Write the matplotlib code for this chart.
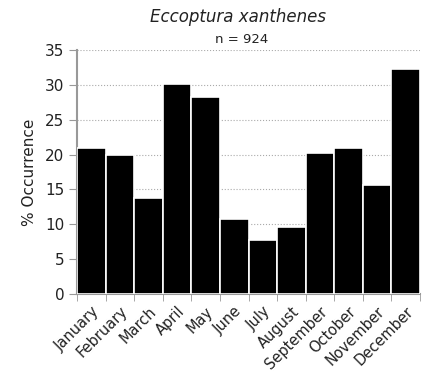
import matplotlib
matplotlib.use("Agg")
import matplotlib.pyplot as plt
import numpy as np

months = ["January", "February", "March", "April", "May", "June", "July",
          "August", "September", "October", "November", "December"]
occurrence = [20.9, 20.0, 13.8, 30.1, 28.2, 10.8, 7.7, 9.6, 20.2, 21.0, 15.7, 32.3]
y_ticks = [0, 5, 10, 15, 20, 25, 30, 35]

plt.rcParams["font.family"] = ["DejaVu Sans"]
text_color = "#222222"
axis_color = "#999999"

fig = plt.figure(figsize=(4.23, 3.77), dpi=100)
ax = fig.add_axes([77 / 423, 83 / 377, 343 / 423, 244 / 377])

x = np.arange(len(months))
ax.bar(x, occurrence, width=1.0, color="black", edgecolor="white",
       linewidth=1.2, zorder=3)

ax.set_xlim(-0.5, len(months) - 0.5)
ax.set_ylim(0, 35)
ax.set_yticks(y_ticks)
ax.tick_params(axis="y", labelsize=11, length=6, color=axis_color, pad=3,
               labelcolor=text_color)
ax.yaxis.grid(True, linestyle=":", color="#aaaaaa", linewidth=0.8, zorder=0)

ax.set_xticks(x)
ax.set_xticklabels(months, rotation=45, ha="right", rotation_mode="anchor",
                   fontsize=10.5, color=text_color)
ax.tick_params(axis="x", length=0, pad=7)
ax.set_xticks(np.arange(len(months) + 1) - 0.5, minor=True)
ax.tick_params(axis="x", which="minor", length=5, color=axis_color)

for side in ["top", "right"]:
    ax.spines[side].set_visible(False)
for side in ["left", "bottom"]:
    ax.spines[side].set_color(axis_color)
    ax.spines[side].set_linewidth(1.5)

ax.set_ylabel("% Occurrence", fontsize=11, color=text_color, labelpad=6)

fig.text(0.563, 0.955, "Eccoptura xanthenes", ha="center", va="center",
         fontsize=12, style="italic", color=text_color)
fig.text(0.572, 0.894, "n = 924", ha="center", va="center", fontsize=9.5,
         color=text_color)

fig.savefig("out.png", dpi=100)
